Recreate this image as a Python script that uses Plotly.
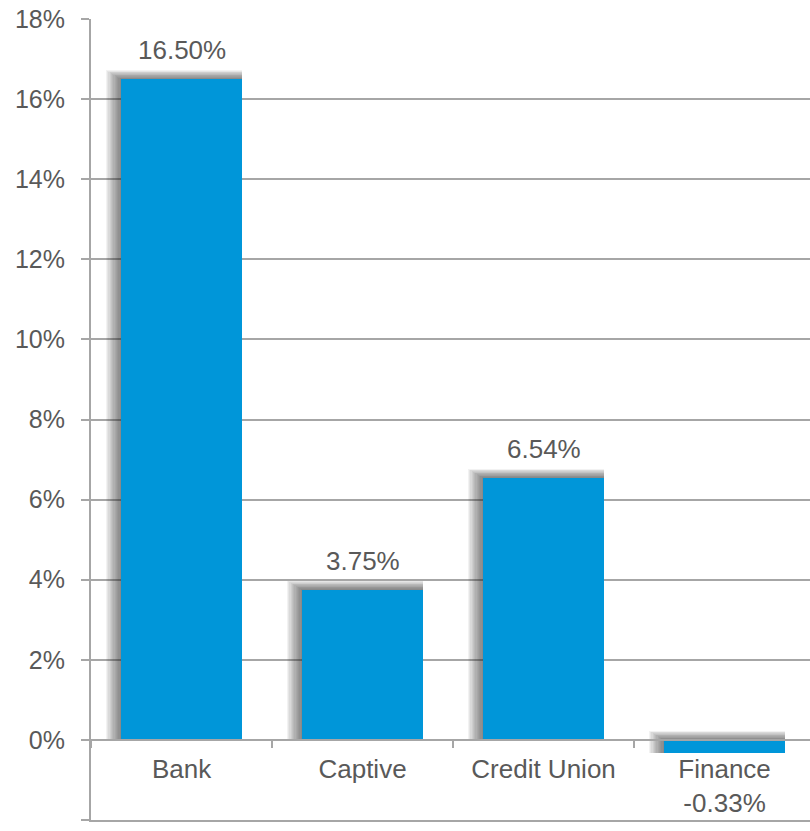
import plotly.graph_objects as go

# Year-over-year change by lender type
categories = ["Bank", "Captive", "Credit Union", "Finance"]
values = [16.50, 3.75, 6.54, -0.33]

BAR_COLOR = "#0096D9"
TEXT_COLOR = "#595959"
GRID_COLOR = "#A6A6A6"
FONT = "Liberation Sans, Arial, sans-serif"
LABEL_SIZE = 26
YTICK_SIZE = 25

W, H = 810, 831
M_L, M_R, M_T, M_B = 91, 0, 19, 11
Y_MIN, Y_MAX = -2, 18
X_MIN, X_MAX = -0.5, 3.472

px_per_y = (H - M_T - M_B) / (Y_MAX - Y_MIN)
px_per_x = (W - M_L - M_R) / (X_MAX - X_MIN)
BAR_W = 0.67

fig = go.Figure()

# Soft drop shadow: stacked translucent layers reaching out to the left and top
N_LAYERS = 12
LEFT_PX, TOP_PX = 15, 9
for k in range(1, N_LAYERS + 1):
    dl = LEFT_PX * k / N_LAYERS / px_per_x
    dt = TOP_PX * k / N_LAYERS / px_per_y
    bases, heights = [], []
    for v in values:
        lo, hi = min(0, v), max(0, v)
        bases.append(lo)
        heights.append(hi + dt - lo)
    fig.add_trace(go.Bar(
        x=categories, y=heights, base=bases,
        width=BAR_W + dl,
        offset=-BAR_W / 2 - dl,
        marker=dict(color="rgba(40,40,40,0.06)", line=dict(width=0)),
        hoverinfo="skip", showlegend=False,
    ))

fig.add_trace(go.Bar(
    x=categories, y=values, width=BAR_W,
    marker=dict(color=BAR_COLOR, line=dict(width=0)),
    showlegend=False,
))

# Invisible trace that anchors the bottom frame axis
fig.add_trace(go.Scatter(
    x=[0, 1], y=[Y_MIN, Y_MIN], xaxis="x2", mode="lines",
    line=dict(width=0), hoverinfo="skip", showlegend=False,
))

# Value labels above positive bars; negative values go under the category name
tick_text = []
for c, v in zip(categories, values):
    if v >= 0:
        tick_text.append(c)
        fig.add_annotation(
            x=c, y=v, text=f"{v:.2f}%", showarrow=False,
            yanchor="bottom", yshift=12,
            font=dict(size=LABEL_SIZE, color=TEXT_COLOR, family=FONT),
        )
    else:
        tick_text.append(f"{c}<br>{v:.2f}%")

fig.update_layout(
    width=W, height=H,
    margin=dict(l=M_L, r=M_R, t=M_T, b=M_B, pad=0),
    paper_bgcolor="white", plot_bgcolor="white",
    barmode="overlay", bargap=0,
    font=dict(family=FONT, size=LABEL_SIZE, color=TEXT_COLOR),
    xaxis=dict(
        type="category", range=[X_MIN, X_MAX],
        anchor="free", position=(0 - Y_MIN) / (Y_MAX - Y_MIN),
        showline=True, linecolor=GRID_COLOR, linewidth=2,
        ticks="outside", tickson="boundaries", ticklen=7,
        tickcolor=GRID_COLOR, tickwidth=2,
        tickvals=categories, ticktext=tick_text,
        showgrid=False, zeroline=False, ticklabelstandoff=6,
        tickfont=dict(size=LABEL_SIZE, color=TEXT_COLOR, family=FONT),
    ),
    xaxis2=dict(
        overlaying="x", anchor="y", side="bottom", range=[0, 1],
        showline=True, linecolor=GRID_COLOR, linewidth=2,
        showticklabels=False, ticks="", showgrid=False, zeroline=False,
    ),
    yaxis=dict(
        range=[Y_MIN, Y_MAX], dtick=2, tick0=0, ticksuffix="%",
        showline=True, linecolor=GRID_COLOR, linewidth=2,
        ticks="outside", ticklen=8, tickcolor=GRID_COLOR, tickwidth=2,
        showgrid=True, gridcolor=GRID_COLOR, gridwidth=2,
        zeroline=False, ticklabelstandoff=11,
        tickfont=dict(size=YTICK_SIZE, color=TEXT_COLOR, family=FONT),
    ),
)

fig.write_html("out.html")
